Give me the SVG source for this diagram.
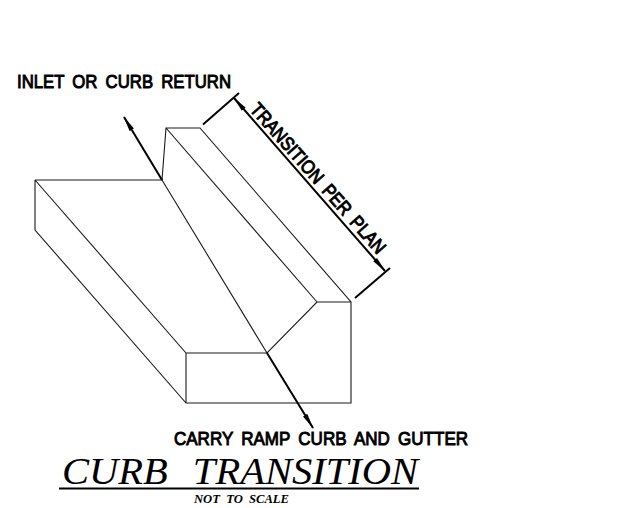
<svg xmlns="http://www.w3.org/2000/svg" width="621" height="508" viewBox="0 0 621 508">
<style>
.l{fill:none;stroke:#1a1a1a;stroke-width:1.1}
.d{fill:none;stroke:#000;stroke-width:2}
.t{font-family:"Liberation Sans",Arial,sans-serif;font-size:19px;fill:#000;stroke:#000;stroke-width:1;word-spacing:4px}
.s{font-family:"Liberation Serif","Times New Roman",serif;font-style:italic;fill:#000}
</style>
<defs><marker id="a" viewBox="0 0 16 6" refX="15" refY="3" markerWidth="16" markerHeight="6" markerUnits="userSpaceOnUse" orient="auto-start-reverse"><path d="M0 0.5L16 3L0 5.5Z" fill="#000"/></marker></defs>
<rect width="621" height="508" fill="#fff"/>
<g id="curb-block">
<path class="l" d="M35 180H162L166 128H200L351 302V403H186V353H267L317 302H351M35 180V230L186 403M35 180L186 353M162 180L267 353M166 128L317 302"/>
</g>
<g id="connectors">
<path class="d" d="M162 180L124 117" marker-end="url(#a)"/>
<path class="d" d="M267 353L313 428" marker-end="url(#a)"/>
<path class="d" d="M234 98L385 271" marker-start="url(#a)" marker-end="url(#a)"/>
<path class="d" d="M203 124.500L239 93M355 298L390 268"/>
</g>
<g id="labels">
<text class="t" x="17" y="88" textLength="214" lengthAdjust="spacingAndGlyphs">INLET OR CURB RETURN</text>
<text class="t" x="174" y="445" textLength="294" lengthAdjust="spacingAndGlyphs">CARRY RAMP CURB AND GUTTER</text>
<text class="t" transform="translate(249 110) rotate(48.500)" textLength="194" lengthAdjust="spacingAndGlyphs">TRANSITION PER PLAN</text>
<text class="s" x="62" y="484" font-size="38" textLength="356" lengthAdjust="spacingAndGlyphs" style="word-spacing:14px">CURB TRANSITION</text>
<path d="M59 488.500H419" stroke="#000" stroke-width="2" fill="none"/>
<text class="s" x="194" y="503" font-size="12.500" font-weight="bold" textLength="95" lengthAdjust="spacingAndGlyphs" style="word-spacing:3px">NOT TO SCALE</text>
</g>
</svg>
